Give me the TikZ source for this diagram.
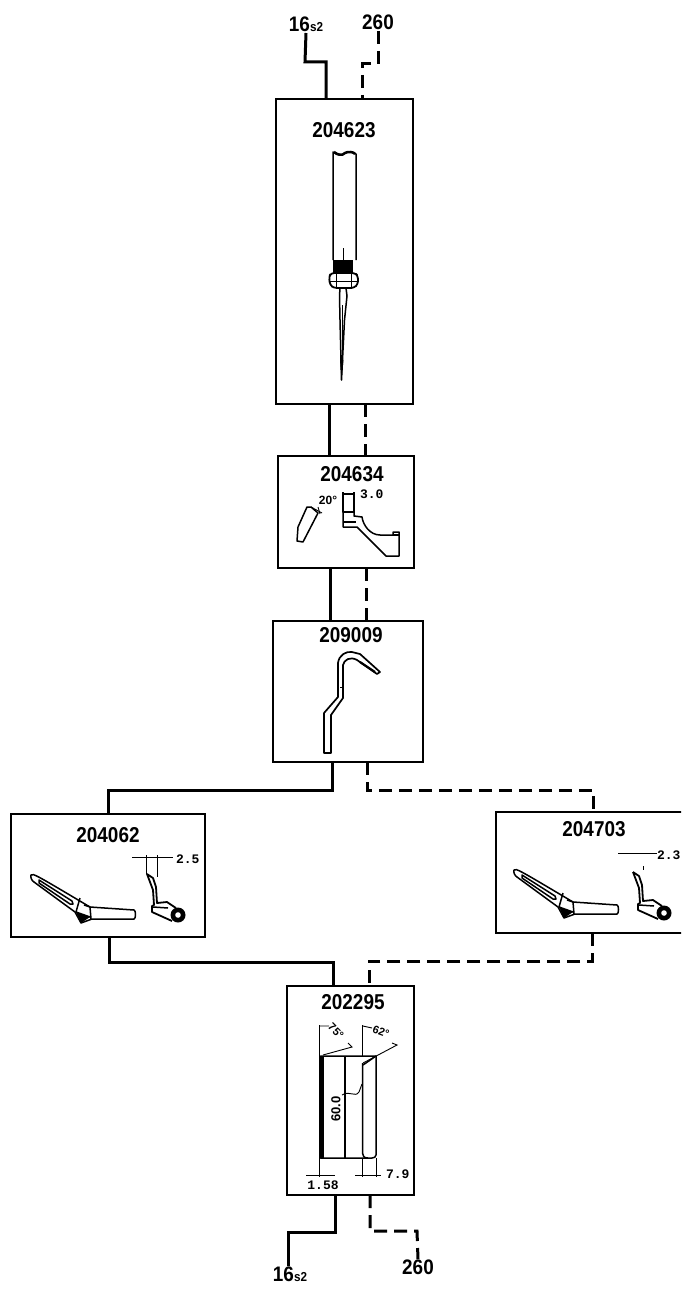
\documentclass[tikz,border=0pt]{standalone}
\usepackage{fontspec}
\setmainfont{Liberation Sans}
\newfontfamily\dimfont{Liberation Mono}[BoldFont={Liberation Mono Bold}]
\usetikzlibrary{calc}
\tikzset{
  boxn/.style={draw=black,line width=2.2pt,inner sep=0,outer sep=0,fill=none},
  solidc/.style={draw=black,line width=3pt,line join=miter},
  dashc/.style={draw=black,line width=3pt,dash pattern=on 13pt off 7pt},
  part/.style={draw=black,line width=1.5pt,line join=round},
  thin part/.style={draw=black,line width=.9pt},
  title/.style={inner sep=0,outer sep=0,font=\fontsize{21.5}{21.5}\selectfont\bfseries,xscale=.88},
  dimt/.style={inner sep=0,outer sep=0,font=\fontsize{13}{13}\selectfont\dimfont\bfseries},
  endt/.style={inner sep=1pt,outer sep=0,font=\fontsize{21}{21}\selectfont\bfseries,xscale=.9},
}
\newcommand{\bladepart}{%
  \draw[part] (31,875) .. controls (33,873) and (36,875) .. (90,907)
    -- (134,910) .. controls (136,910) and (136,919) .. (134,919)
    -- (92,919) -- (81,923) -- (75,912) -- (34,882) .. controls (32,881) and (30,877) .. (31,875) -- cycle;
  \draw[part] (39,880) -- (72,901) -- (73,904) -- (70,904) -- (39,883) -- cycle;
  \draw[part] (80,898) -- (76,912) -- (90,917);
  \draw[part] (84,905) -- (90,907) -- (91,919);
  \fill (76,912) -- (90,917) -- (81,923) -- cycle;
}
\newcommand{\hookpart}{%
  \draw[part,line width=1.8pt] (147,874) -- (153,878) -- (156,887) -- (157,903) -- (167,902) -- (176,908);
  \draw[part,line width=1.8pt] (147,874) -- (150,882) -- (153,890) -- (154,905) -- (152,906) -- (152,912) -- (172,921);
  \draw[part] (153,907) -- (168,908);
  \fill (178,915) circle (7.5pt);
  \fill[white] (178,915) circle (2.8pt);
}
\begin{document}
\begin{tikzpicture}[x=1pt,y=-1pt]
\useasboundingbox (0,0) rectangle (681,1289);
\fill[white] (0,0) rectangle (681,1289);
\clip (0,0) rectangle (681,1289);
% boxes
\node[boxn,minimum width=137pt,minimum height=305pt] (b1) at (344.5,251.5) {};
\node[boxn,minimum width=136pt,minimum height=112pt] (b2) at (346,512) {};
\node[boxn,minimum width=150pt,minimum height=141pt] (b3) at (348,691.5) {};
\node[boxn,minimum width=194pt,minimum height=123pt] (b4) at (108,875.5) {};
\node[boxn,minimum width=204pt,minimum height=121pt] (b5) at (598,872.5) {};
\node[boxn,minimum width=127pt,minimum height=209pt] (b6) at (350.5,1090.5) {};
% titles
\node[title] (t1) at (344,130) {204623};
\node[title] (t2) at (352,474) {204634};
\node[title] (t3) at (351,635) {209009};
\node[title] (t4) at (108,835) {204062};
\node[title] (t5) at (594,829) {204703};
\node[title] (t6) at (353,1002) {202295};
% end labels
\node[endt,anchor=south] (s1) at (306,33) {16{\fontsize{13}{13}\selectfont s2}};
\node[endt,anchor=south] (d1) at (378,31) {260};
\node[endt,anchor=north] (s2) at (290,1266) {16{\fontsize{13}{13}\selectfont s2}};
\node[endt,anchor=north] (d2) at (418,1259) {260};
% solid connectors
\draw[solidc] (s1.south) -- (305,62) -- (326,62) -- ([xshift=-18.5pt]b1.north);
\draw[solidc] ([xshift=-15.5pt]b1.south) -- ([xshift=-17pt]b2.north);
\draw[solidc] ([xshift=-16pt]b2.south) -- ([xshift=-18pt]b3.north);
\draw[solidc] ([xshift=-16pt]b3.south) |- (108,790) -- (b4.north);
\draw[solidc] ([xshift=1pt]b4.south) -- (109,962) -- (333,962) -- ([xshift=-17.5pt]b6.north);
\draw[solidc] ([xshift=-15.5pt]b6.south) -- (335,1232) -- (288,1232) -- (s2.north -| 288,0);
% dashed connectors
\draw[dashc] (d1.south) -- (378,64) -- (362,64) -- ([xshift=17.5pt]b1.north);
\draw[dashc] ([xshift=20.5pt]b1.south) -- ([xshift=19pt]b2.north);
\draw[dashc] ([xshift=20pt]b2.south) -- ([xshift=18pt]b3.north);
\draw[dashc] ([xshift=19pt]b3.south) -- (367,790) -- (593,790) -- ([xshift=-5pt]b5.north);
\draw[dashc] ([xshift=-6pt]b5.south) -- (592,961) -- (369,961) -- ([xshift=18.5pt]b6.north);
\draw[dashc] ([xshift=19.5pt]b6.south) -- (370,1231) -- (417,1231) -- (d2.north);
% needle
\draw[part] (333,260) -- (333,152) .. controls (338,156) and (342,156) .. (345,153) .. controls (348,151) and (354,152) .. (356,154) -- (356,260);
\draw[part,line width=2.5pt] (334,152) .. controls (338,155) and (342,156) .. (345,153) .. controls (348,151) and (354,152) .. (355,154);
\draw[thin part] (343,248) -- (343,261);
\fill (333,260) rectangle (353,273);
\draw[part,line width=1.8pt,rounded corners=3pt] (331,273) -- (329,277) -- (330,285) -- (334,288) -- (354,288) -- (358,284) -- (358,276) -- (355,273) -- cycle;
\draw[thin part] (336,273) -- (336,288) (351,273) -- (351,288) (330,281) -- (358,281);
\draw[part] (340,288) -- (339.5,296) -- (340,320) -- (341.5,380) -- (344.5,320) -- (347,296) -- (346,288);
\draw[thin part] (342.5,305) -- (342.5,368);
\fill (341.5,380) -- (340,360) -- (343.5,360) -- cycle;
% box 2 parts
\draw[part] (307,507) -- (298,527) -- (297,541) -- (303,542) -- (318,513) -- (311,507) -- cycle;
\draw[thin part] (311,507) -- (322,513);
\draw[thin part] (318,507) -- (320,514);
\node[dimt,font=\fontsize{12}{12}\selectfont\bfseries] (a20) at (328,500) {20°};
\draw[part] (343,512) -- (343,494) -- (354,494) -- (354,512) -- cycle;
\draw[part] (343,494) -- (343,492) (354,494) -- (354,492);
\draw[part] (343,512) -- (343,527) -- (357,527) -- (386,556) -- (399,556) -- (399,532) -- (393,532) -- (393,535) -- (380,535)
  .. controls (370,535) and (363,525) .. (362,517) -- (354,516) -- (354,512);
\draw[part] (343,522) -- (356,522);
\draw[part] (393,535) -- (399,535);
\node[dimt,anchor=west] (a30) at (360,494) {3.0};
% box 3 hook
\draw[part,line width=1.7pt] (324,753) -- (324,713) -- (338,697) -- (338,663)
  .. controls (339,655) and (346,651) .. (352,652) -- (360,654) -- (380,672) -- (377,674) -- (357,660)
  .. controls (350,656) and (344,660) .. (343,665) -- (343,698) -- (331,715) -- (331,753) -- cycle;
\draw[part,line width=2.2pt] (360,662) -- (375,672);
\draw[thin part] (340,687) -- (343,687);
% box 4 parts
\bladepart
\hookpart
\draw[thin part] (132,857) -- (173,857);
\draw[thin part] (146,855) -- (146,874) (157,855) -- (157,877);
\node[dimt,anchor=west] (a25) at (176,859) {2.5};
% box 5 parts
\begin{scope}[shift={(483,-5)}]\bladepart\end{scope}
\begin{scope}[shift={(486,-2)}]\hookpart\end{scope}
\draw[thin part] (618,853) -- (657,853);
\draw[thin part] (643,866) -- (643,870);
\node[dimt,anchor=east] (a23) at (680.5,855) {2.3};
% box 6 part
\draw[part] (320.5,1056) -- (376,1056) -- (376,1155) .. controls (376,1157) and (374,1158) .. (372,1158) -- (320.5,1158) -- cycle;
\fill (320,1056) rectangle (324,1158);
\draw[part] (345,1056) -- (345,1158);
\draw[part] (362.5,1063) -- (362.5,1153) .. controls (362.5,1156) and (364,1158) .. (368,1158);
\draw[part] (363,1065) -- (376,1056);
\draw[thin part] (319,1025) -- (319,1177) (362,1025) -- (362,1056) (362,1158) -- (362,1177) (376,1158) -- (376,1177);
\draw[thin part] (319,1026) -- (329,1026) (363,1026) -- (372,1028);
\draw[thin part] (323,1055) -- (352,1047) -- (348,1043);
\draw[thin part] (363,1063) -- (397,1045) -- (392,1043);
\node[dimt,font=\fontsize{11}{11}\selectfont\bfseries,rotate=-45] (a75) at (336,1031) {75°};
\node[dimt,font=\fontsize{11}{11}\selectfont\bfseries,rotate=-20] (a62) at (381,1032) {62°};
\node[dimt,font=\fontsize{13}{13}\selectfont\bfseries,rotate=90] (a60) at (336,1109) {60.0};
\draw[thin part] (342,1095) .. controls (350,1090) and (355,1098) .. (359,1092) .. controls (361,1088) and (361,1088) .. (362,1084);
\draw[thin part] (306,1175) -- (335,1175);
\draw[thin part] (355,1175) -- (381,1175);
\node[dimt] (a158) at (323,1185) {1.58};
\node[dimt,anchor=west] (a79) at (386,1174) {7.9};
\end{tikzpicture}
\end{document}
